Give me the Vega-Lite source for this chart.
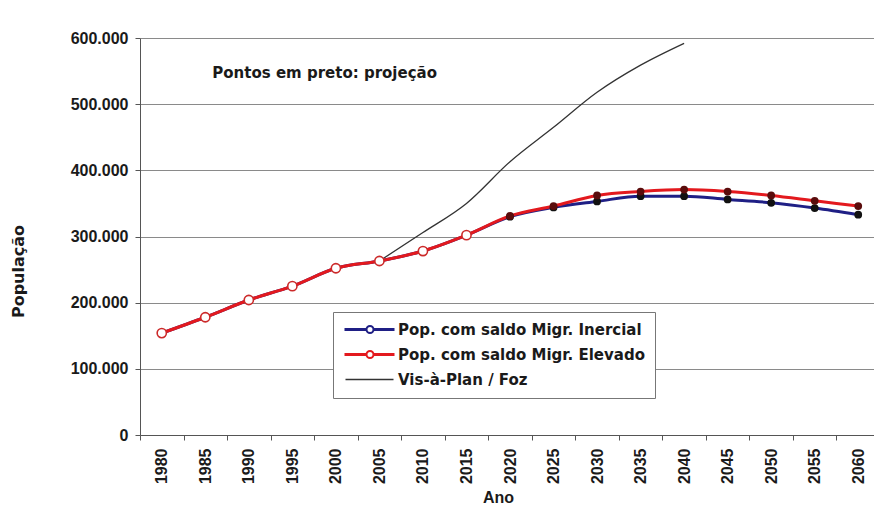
{
  "$schema": "https://vega.github.io/schema/vega-lite/v6.json",
  "width": 740,
  "height": 397,
  "autosize": {"type": "none"},
  "padding": {"left": 140, "top": 38, "right": 0, "bottom": 71},
  "background": "white",
  "config": {
    "font": "Liberation Sans",
    "view": {"stroke": null},
    "axis": {
      "labelFont": "Liberation Sans",
      "labelFontSize": 16,
      "labelFontWeight": "bold",
      "labelColor": "#1a1a1a",
      "titleFont": "Liberation Sans",
      "titleFontSize": 16,
      "titleFontWeight": "bold",
      "titleColor": "#1a1a1a"
    }
  },
  "datasets": {
    "pop": [
      {"ano": "1980", "serie": "Pop. com saldo Migr. Inercial", "pop": 154000, "tipo": "hist"},
      {"ano": "1985", "serie": "Pop. com saldo Migr. Inercial", "pop": 178000, "tipo": "hist"},
      {"ano": "1990", "serie": "Pop. com saldo Migr. Inercial", "pop": 204000, "tipo": "hist"},
      {"ano": "1995", "serie": "Pop. com saldo Migr. Inercial", "pop": 225000, "tipo": "hist"},
      {"ano": "2000", "serie": "Pop. com saldo Migr. Inercial", "pop": 252000, "tipo": "hist"},
      {"ano": "2005", "serie": "Pop. com saldo Migr. Inercial", "pop": 263000, "tipo": "hist"},
      {"ano": "2010", "serie": "Pop. com saldo Migr. Inercial", "pop": 278000, "tipo": "hist"},
      {"ano": "2015", "serie": "Pop. com saldo Migr. Inercial", "pop": 302000, "tipo": "hist"},
      {"ano": "2020", "serie": "Pop. com saldo Migr. Inercial", "pop": 330000, "tipo": "proj"},
      {"ano": "2025", "serie": "Pop. com saldo Migr. Inercial", "pop": 344000, "tipo": "proj"},
      {"ano": "2030", "serie": "Pop. com saldo Migr. Inercial", "pop": 353000, "tipo": "proj"},
      {"ano": "2035", "serie": "Pop. com saldo Migr. Inercial", "pop": 361000, "tipo": "proj"},
      {"ano": "2040", "serie": "Pop. com saldo Migr. Inercial", "pop": 361000, "tipo": "proj"},
      {"ano": "2045", "serie": "Pop. com saldo Migr. Inercial", "pop": 356000, "tipo": "proj"},
      {"ano": "2050", "serie": "Pop. com saldo Migr. Inercial", "pop": 351000, "tipo": "proj"},
      {"ano": "2055", "serie": "Pop. com saldo Migr. Inercial", "pop": 343000, "tipo": "proj"},
      {"ano": "2060", "serie": "Pop. com saldo Migr. Inercial", "pop": 333000, "tipo": "proj"},
      {"ano": "1980", "serie": "Pop. com saldo Migr. Elevado", "pop": 154000, "tipo": "hist"},
      {"ano": "1985", "serie": "Pop. com saldo Migr. Elevado", "pop": 178000, "tipo": "hist"},
      {"ano": "1990", "serie": "Pop. com saldo Migr. Elevado", "pop": 204000, "tipo": "hist"},
      {"ano": "1995", "serie": "Pop. com saldo Migr. Elevado", "pop": 225000, "tipo": "hist"},
      {"ano": "2000", "serie": "Pop. com saldo Migr. Elevado", "pop": 252000, "tipo": "hist"},
      {"ano": "2005", "serie": "Pop. com saldo Migr. Elevado", "pop": 263000, "tipo": "hist"},
      {"ano": "2010", "serie": "Pop. com saldo Migr. Elevado", "pop": 278000, "tipo": "hist"},
      {"ano": "2015", "serie": "Pop. com saldo Migr. Elevado", "pop": 302000, "tipo": "hist"},
      {"ano": "2020", "serie": "Pop. com saldo Migr. Elevado", "pop": 331000, "tipo": "proj"},
      {"ano": "2025", "serie": "Pop. com saldo Migr. Elevado", "pop": 346000, "tipo": "proj"},
      {"ano": "2030", "serie": "Pop. com saldo Migr. Elevado", "pop": 362000, "tipo": "proj"},
      {"ano": "2035", "serie": "Pop. com saldo Migr. Elevado", "pop": 368000, "tipo": "proj"},
      {"ano": "2040", "serie": "Pop. com saldo Migr. Elevado", "pop": 371000, "tipo": "proj"},
      {"ano": "2045", "serie": "Pop. com saldo Migr. Elevado", "pop": 368000, "tipo": "proj"},
      {"ano": "2050", "serie": "Pop. com saldo Migr. Elevado", "pop": 362000, "tipo": "proj"},
      {"ano": "2055", "serie": "Pop. com saldo Migr. Elevado", "pop": 354000, "tipo": "proj"},
      {"ano": "2060", "serie": "Pop. com saldo Migr. Elevado", "pop": 346000, "tipo": "proj"},
      {"ano": "2005", "serie": "Vis-à-Plan / Foz", "pop": 263000, "tipo": "none"},
      {"ano": "2010", "serie": "Vis-à-Plan / Foz", "pop": 306000, "tipo": "none"},
      {"ano": "2015", "serie": "Vis-à-Plan / Foz", "pop": 350000, "tipo": "none"},
      {"ano": "2020", "serie": "Vis-à-Plan / Foz", "pop": 413000, "tipo": "none"},
      {"ano": "2025", "serie": "Vis-à-Plan / Foz", "pop": 465000, "tipo": "none"},
      {"ano": "2030", "serie": "Vis-à-Plan / Foz", "pop": 518000, "tipo": "none"},
      {"ano": "2035", "serie": "Vis-à-Plan / Foz", "pop": 559000, "tipo": "none"},
      {"ano": "2040", "serie": "Vis-à-Plan / Foz", "pop": 592000, "tipo": "none"}
    ],
    "nota": [
      {"ano": "1985", "pop": 547000, "texto": "Pontos em preto: projeção"}
    ]
  },
  "encoding": {
    "x": {
      "field": "ano",
      "type": "ordinal",
      "scale": {"type": "band", "paddingInner": 0, "paddingOuter": 0},
      "axis": {
        "title": "Ano",
        "labelAngle": -90,
        "labelAlign": "right",
        "labelBaseline": "middle",
        "labelPadding": 8,
        "tickBand": "extent",
        "tickSize": 5,
        "tickColor": "#555",
        "domainColor": "#555",
        "titleX": 358,
        "titleY": 62,
        "titleBaseline": "middle",
        "titleAnchor": null,
        "titleAlign": "center"
      }
    },
    "y": {
      "field": "pop",
      "type": "quantitative",
      "scale": {"domain": [0, 600000], "nice": false},
      "axis": {
        "title": "População",
        "titleFont": "DejaVu Sans",
        "titleFontSize": 16,
        "values": [0, 100000, 200000, 300000, 400000, 500000, 600000],
        "labelExpr": "replace(format(datum.value, ','), regexp(',', 'g'), '.')",
        "labelPadding": 7,
        "tickSize": 5,
        "tickColor": "#555",
        "domainColor": "#555",
        "grid": true,
        "gridColor": "#8a8a8a",
        "gridWidth": 1,
        "gridOpacity": 1,
        "titleX": -122,
        "titleY": 233,
        "titleAngle": -90,
        "titleBaseline": "middle",
        "titleAlign": "center",
        "titleAnchor": null
      }
    }
  },
  "layer": [
    {
      "data": {"name": "pop"},
      "transform": [{"filter": "datum.serie === 'Vis-à-Plan / Foz'"}],
      "mark": {"type": "line", "strokeWidth": 1.3, "interpolate": "monotone"},
      "encoding": {
        "color": {
          "field": "serie",
          "type": "nominal",
          "scale": {
            "domain": ["Pop. com saldo Migr. Inercial", "Pop. com saldo Migr. Elevado", "Vis-à-Plan / Foz"],
            "range": ["#1f1f85", "#e3191e", "#333333"]
          },
          "legend": {
            "orient": "none",
            "legendX": 193,
            "legendY": 274,
            "title": null,
            "padding": 10,
            "rowPadding": 9,
            "symbolSize": 400,
            "labelOffset": 40,
            "strokeColor": "#777",
            "fillColor": "white",
            "labelFont": "DejaVu Sans",
            "labelFontSize": 15,
            "labelFontWeight": "bold",
            "labelColor": "#1a1a1a",
            "labelLimit": 400,
            "encode": {
              "symbols": {
                "update": {
                  "shape": {"signal": "datum.value === 'Vis-à-Plan / Foz' ? 'M-0.5,0H4.3' : 'M-0.5,-0.05H1.6V0.05H-0.5Z M2.3,-0.05H4.3V0.05H2.3Z M1.6,0A0.35,0.35 0 1,1 2.3,0A0.35,0.35 0 1,1 1.6,0Z'"},
                  "strokeWidth": {"signal": "datum.value === 'Vis-à-Plan / Foz' ? 1.3 : 2"},
                  "fill": {"value": "white"}
                }
              }
            }
          }
        }
      }
    },
    {
      "data": {"name": "pop"},
      "transform": [{"filter": "datum.serie === 'Pop. com saldo Migr. Inercial'"}],
      "mark": {"type": "line", "strokeWidth": 3, "interpolate": "monotone"},
      "encoding": {"color": {"field": "serie", "type": "nominal"}}
    },
    {
      "data": {"name": "pop"},
      "transform": [{"filter": "datum.serie === 'Pop. com saldo Migr. Elevado'"}],
      "mark": {"type": "line", "strokeWidth": 3, "interpolate": "monotone"},
      "encoding": {"color": {"field": "serie", "type": "nominal"}}
    },
    {
      "data": {"name": "pop"},
      "transform": [{"filter": "datum.serie === 'Pop. com saldo Migr. Inercial' && datum.tipo === 'proj'"}],
      "mark": {"type": "point", "filled": true, "fill": "#111111", "size": 60, "opacity": 1}
    },
    {
      "data": {"name": "pop"},
      "transform": [{"filter": "datum.serie === 'Pop. com saldo Migr. Elevado' && datum.tipo === 'proj'"}],
      "mark": {"type": "point", "filled": true, "fill": "#5a0c0c", "size": 60, "opacity": 1}
    },
    {
      "data": {"name": "pop"},
      "transform": [{"filter": "datum.serie === 'Pop. com saldo Migr. Elevado' && datum.tipo === 'hist'"}],
      "mark": {"type": "point", "filled": false, "fill": "white", "fillOpacity": 1, "stroke": "#cc2a2a", "strokeWidth": 1.6, "size": 85, "opacity": 1}
    },
    {
      "data": {"name": "nota"},
      "mark": {"type": "text", "align": "left", "baseline": "middle", "dx": 7, "font": "DejaVu Sans", "fontSize": 15, "fontWeight": "bold", "color": "#1a1a1a"},
      "encoding": {"text": {"field": "texto"}}
    }
  ]
}
